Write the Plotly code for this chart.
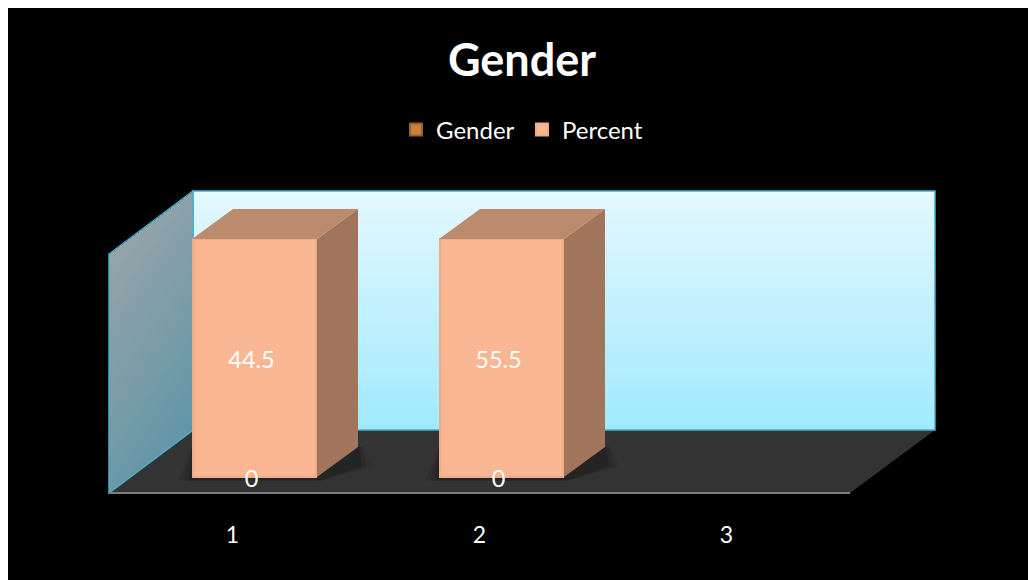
import base64
import struct
import zlib

import plotly.graph_objects as go

categories = [1, 2, 3]
gender_values = [0, 0, None]
percent_values = [44.5, 55.5, None]
title_text = "Gender"
FONT = "Lato"

# The page puts the figure at (8, 8) inside the 1028x580 window; it runs past the window edge
OFF = 8
W, H = 1028, 580
BASE_PX, TOP_PX = 477.0, 239.0
C1_PX, STEP_PX = 254.5, 247.0
PX_Y = (BASE_PX - TOP_PX) / 100.0
BAR_W = 123.0 / STEP_PX
DX = 41.0 / STEP_PX
DY = 30.0 / PX_Y
FRONT_R = 1.0 / STEP_PX
LABEL_DX = -3.0 / STEP_PX
LABEL_DY = -4.0 / PX_Y


def px(x):
    return (x - OFF) / W


def py(y):
    return 1 - (y - OFF) / H


def lerp(a, b, t):
    return tuple(round(a[i] + (b[i] - a[i]) * t) for i in range(3))


def png_uri(width, height, pixel):
    raw = bytearray()
    for y in range(height):
        raw.append(0)
        for x in range(width):
            raw.extend(pixel(x, y))

    def chunk(tag, data):
        body = tag + data
        return struct.pack(">I", len(data)) + body + struct.pack(">I", zlib.crc32(body))

    data = b"\x89PNG\r\n\x1a\n"
    data += chunk(b"IHDR", struct.pack(">IIBBBBB", width, height, 8, 6, 0, 0, 0))
    data += chunk(b"IDAT", zlib.compress(bytes(raw), 9))
    data += chunk(b"IEND", b"")
    return "data:image/png;base64," + base64.b64encode(data).decode()


def back_pixel(x, y):
    return lerp((228, 248, 255), (160, 234, 255), y / 238) + (255,)


def left_pixel(x, y):
    top = 63 - 0.75 * x
    if y < top or y > top + 239:
        return (0, 0, 0, 0)
    t = (y - top) / 239
    s = t * .8 + x / 84 * .2
    return lerp((150, 164, 169), (96, 150, 168), s) + (255,)


def image(src, x, y, w, h):
    return dict(source=src, xref="paper", yref="paper", x=px(x), y=py(y),
                sizex=w / W, sizey=h / H, sizing="stretch", xanchor="left", yanchor="top",
                layer="below")


images = [image(png_uri(742, 239, back_pixel), 193, 191, 742, 239),
          image(png_uri(84, 302, left_pixel), 109, 191, 84, 302)]


def poly(points, **kw):
    path = "M" + " L".join(f"{px(x):.5f},{py(y):.5f}" for x, y in points) + " Z"
    return dict(type="path", xref="paper", yref="paper", path=path, layer="below", **kw)


EDGE = "#4BAFC8"
shapes = [
    poly([(109, 493), (850, 493), (935, 430), (193, 430)], fillcolor="#333333", line=dict(width=0)),
    poly([(193, 191), (935, 191), (935, 430), (193, 430)], fillcolor="rgba(0,0,0,0)",
         line=dict(color=EDGE, width=1.5)),
    poly([(109, 254), (193, 191), (193, 430), (109, 493)], fillcolor="rgba(0,0,0,0)",
         line=dict(color=EDGE, width=1.5)),
    dict(type="line", xref="paper", yref="paper", x0=px(109), x1=px(850), y0=py(493), y1=py(493),
         line=dict(color="#7F7F7F", width=2), layer="below"),
]

fig = go.Figure()

tops = []
for g, p in zip(gender_values, percent_values):
    tops.append(100.0 if (g or 0) + (p or 0) else None)

for cat, top in zip(categories, tops):
    if top is None:
        continue
    l, r = cat - BAR_W / 2 - FRONT_R, cat + BAR_W / 2 + FRONT_R
    for grow, alpha in ((0.055, .1), (0.035, .14), (0.015, .2)):
        pts = [(l - grow, -1.5), (r + grow * .4, -1.5), (r + DX + grow, DY * .35),
               (r + DX + grow * .4, DY), (l, DY)]
        shapes.append(dict(type="path", xref="x", yref="y", layer="below",
                           path="M" + " L".join(f"{a:.4f},{b:.3f}" for a, b in pts) + " Z",
                           fillcolor=f"rgba(15,15,15,{alpha})", line=dict(width=0)))
    fig.add_trace(go.Scatter(
        x=[r, r + DX, r + DX, r], y=[0, DY, top + DY, top], mode="lines", fill="toself",
        fillcolor="#A0755B", line=dict(width=0), showlegend=False, hoverinfo="skip"))
    fig.add_trace(go.Scatter(
        x=[l, l + DX, r + DX, r], y=[top, top + DY, top + DY, top], mode="lines", fill="toself",
        fillcolor="#BC8A6C", line=dict(width=0), showlegend=False, hoverinfo="skip"))

fig.add_trace(go.Bar(x=categories, y=gender_values, name="Gender", width=BAR_W,
                     marker=dict(color="#C8803C", line=dict(color="#9A5F2A", width=2))))
fig.add_trace(go.Bar(x=categories, y=percent_values, name="Percent", width=BAR_W,
                     marker=dict(color="#F9B693", line=dict(color="#EDAC8A", width=2))))

label_x, label_y, label_t = [], [], []
for cat, g, p, top in zip(categories, gender_values, percent_values, tops):
    if top is None:
        continue
    label_x += [cat + LABEL_DX, cat + LABEL_DX]
    label_y += [LABEL_DY, top / 2 + LABEL_DY]
    label_t += [str(g), str(p)]
fig.add_trace(go.Scatter(x=label_x, y=label_y, text=label_t, mode="text",
                         textfont=dict(color="#FFFFFF", size=23.5, family=FONT),
                         showlegend=False, hoverinfo="skip"))

x0 = 1 - (C1_PX - OFF) / STEP_PX
x1 = 1 + (OFF + W - C1_PX) / STEP_PX
y0 = -(OFF + H - BASE_PX) / PX_Y
y1 = (BASE_PX - OFF) / PX_Y

fig.update_layout(
    width=W, height=H,
    margin=dict(l=0, r=0, t=0, b=0),
    paper_bgcolor="#000000",
    plot_bgcolor="rgba(0,0,0,0)",
    barmode="stack",
    barnorm="percent",
    images=images,
    shapes=shapes,
    title=dict(text=f"<b>{title_text}</b>", x=px(522), xanchor="center", y=py(60), yanchor="middle",
               font=dict(color="#FFFFFF", size=45, family=FONT)),
    legend=dict(orientation="h", x=px(396), xanchor="left", y=py(130), yanchor="middle",
                bgcolor="rgba(0,0,0,0)", font=dict(color="#FFFFFF", size=24, family=FONT),
                entrywidth=81, entrywidthmode="pixels", traceorder="normal"),
    xaxis=dict(range=[x0, x1], showgrid=False, zeroline=False, showline=False, ticks="",
               tickmode="array", tickvals=categories, ticktext=[str(c) for c in categories],
               tickfont=dict(color="#FFFFFF", size=23, family=FONT),
               anchor="free", position=py(519), ticklabelshift=-22),
    yaxis=dict(range=[y0, y1], visible=False, showgrid=False, zeroline=False),
    showlegend=True,
)

page_fill = ("document.documentElement.style.background="
             "'linear-gradient(#000,#000) 8px 8px no-repeat #fff';"
             "document.body.style.background='transparent';")
fig.write_html("out.html", config=dict(displayModeBar=False), post_script=page_fill)
